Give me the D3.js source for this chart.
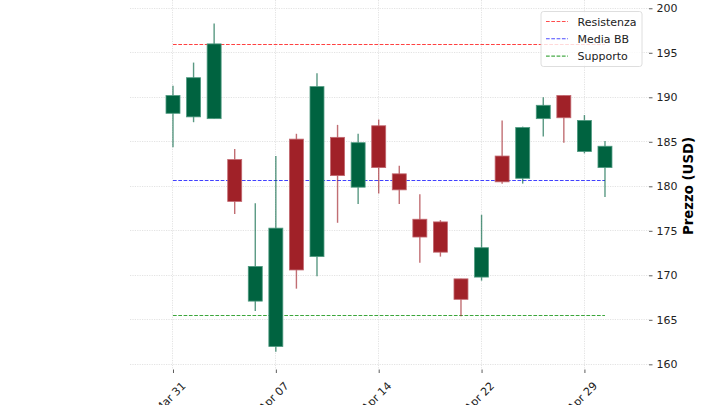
<!DOCTYPE html>
<html>
<head>
<meta charset="utf-8">
<script src="https://cdn.jsdelivr.net/npm/d3@7"></script>
<style>
  html, body { margin: 0; padding: 0; background: #fff; }
  svg { display: block; font-family: "DejaVu Sans", sans-serif; }
</style>
</head>
<body>
<svg id="chart" width="720" height="405"></svg>
<script>
// ---- data ----
const dates = ["2025-03-31","2025-04-01","2025-04-02","2025-04-03","2025-04-04",
  "2025-04-07","2025-04-08","2025-04-09","2025-04-10","2025-04-11",
  "2025-04-14","2025-04-15","2025-04-16","2025-04-17",
  "2025-04-21","2025-04-22","2025-04-23","2025-04-24","2025-04-25",
  "2025-04-28","2025-04-29","2025-04-30"];
const opens  = [188.2,187.8,187.6,183.0,167.1,162.0,185.3,172.1,185.5,179.9,186.8,181.4,176.3,176.0,169.6,169.8,183.4,180.9,187.6,190.2,183.9,182.1];
const highs  = [191.3,193.9,198.3,184.2,178.1,183.4,185.9,192.7,186.9,185.9,187.5,182.3,179.1,176.2,169.6,176.8,187.4,186.7,190.0,190.2,188.0,185.1];
const lows   = [184.4,187.2,187.6,176.9,166.0,161.4,168.5,169.9,175.9,178.0,179.2,178.0,171.4,172.1,165.4,169.4,180.3,180.3,185.6,184.9,183.7,178.8];
const closes = [190.2,192.2,196.0,178.3,171.0,175.3,170.6,191.2,181.2,184.9,182.1,179.6,174.3,172.6,167.3,173.1,180.5,186.6,189.1,187.7,187.4,184.5];
const tickLabels = ["Mar 31","Apr 07","Apr 14","Apr 22","Apr 29"];
const tickDates  = ["2025-03-31","2025-04-07","2025-04-14","2025-04-22","2025-04-29"];
const yTicks = [160,165,170,175,180,185,190,195,200];
const levelNames  = ["Resistenza","Media BB","Supporto"];
const levelValues = [195.9,180.67,165.5];
const levelColors = ["#ff2020","#2020ff","#1a961a"];

// ---- layout ----
const svg = d3.select("#chart");
const L = 130, R = 649, T = 0, B = 368.5;
const x = d3.scaleLinear().domain([-2.09, 23.14]).range([L, R]);
const y = d3.scaleLinear().domain([159.53, 200.93]).range([B, T]);
const snap = v => Math.round(v - 0.5) + 0.5;
const step = x(1) - x(0);
const bodyW = step * 0.68;
const up = "#006340", down = "#A02128";

// grid
const g = svg.append("g");
g.selectAll("line.hg").data(yTicks).join("line")
  .attr("x1", L).attr("x2", R)
  .attr("y1", d => snap(y(d))).attr("y2", d => snap(y(d)))
  .attr("stroke", "#dcdcdc").attr("stroke-width", 0.8).attr("stroke-dasharray", "1.2,1.2");
const tickIdx = tickDates.map(d => dates.indexOf(d));
g.selectAll("line.vg").data(tickIdx).join("line")
  .attr("x1", d => snap(x(d))).attr("x2", d => snap(x(d)))
  .attr("y1", T).attr("y2", B)
  .attr("stroke", "#dcdcdc").attr("stroke-width", 0.8).attr("stroke-dasharray", "1.2,1.2");

// right y axis
const yAxis = d3.axisRight(y).tickValues(yTicks).tickSize(3.5).tickPadding(4);
const ya = svg.append("g").attr("transform", `translate(${R},0)`).call(yAxis);
ya.select(".domain").remove();
ya.selectAll("line").attr("stroke", "#333").attr("stroke-width", 0.8);
ya.selectAll("text").attr("font-size", 11).attr("fill", "#222").attr("font-family", "DejaVu Sans");

// x axis ticks
const xAxis = d3.axisBottom(x).tickValues(tickIdx).tickSize(3.5).tickFormat((d, i) => tickLabels[i]);
const xa = svg.append("g").attr("transform", `translate(0,${B + 1})`).call(xAxis);
xa.select(".domain").remove();
xa.selectAll("line").attr("stroke", "#333").attr("stroke-width", 0.8);
xa.selectAll("text")
  .attr("font-size", 11).attr("fill", "#222").attr("font-family", "DejaVu Sans")
  .attr("text-anchor", "end").attr("dy", null).attr("y", 0)
  .attr("transform", "translate(13,17) rotate(-45)");

// level lines (under candles)
const xs = x(0), xe = x(dates.length - 1);
svg.append("g").selectAll("line").data(levelValues).join("line")
  .attr("x1", xs).attr("x2", xe)
  .attr("y1", d => snap(y(d))).attr("y2", d => snap(y(d)))
  .attr("stroke", (d, i) => levelColors[i]).attr("stroke-opacity", 0.85)
  .attr("stroke-width", 1.1).attr("stroke-dasharray", "3.7,1.6");

// candles
const idx = d3.range(dates.length);
const cg = svg.append("g");
cg.selectAll("line.wick").data(idx).join("line")
  .attr("x1", i => x(i)).attr("x2", i => x(i))
  .attr("y1", i => y(highs[i])).attr("y2", i => y(lows[i]))
  .attr("stroke", i => closes[i] >= opens[i] ? up : down)
  .attr("stroke-opacity", 0.65).attr("stroke-width", 1.4);
cg.selectAll("rect.body").data(idx).join("rect")
  .attr("x", i => x(i) - bodyW / 2).attr("width", bodyW)
  .attr("y", i => y(Math.max(opens[i], closes[i])))
  .attr("height", i => Math.max(1, y(Math.min(opens[i], closes[i])) - y(Math.max(opens[i], closes[i]))))
  .attr("fill", i => closes[i] >= opens[i] ? up : down)
  .attr("stroke", i => closes[i] >= opens[i] ? "#4f9a80" : "#c26870")
  .attr("stroke-width", 0.8);

// y label
svg.append("text")
  .attr("transform", "translate(693,186) rotate(-90)")
  .attr("text-anchor", "middle")
  .attr("font-size", 13.3).attr("font-weight", "bold").attr("fill", "#000")
  .text("Prezzo (USD)");

// legend
const lg = svg.append("g");
lg.append("rect").attr("x", 541).attr("y", 11.5).attr("width", 101).attr("height", 55)
  .attr("rx", 2.5).attr("fill", "#fff").attr("fill-opacity", 0.8)
  .attr("stroke", "#d6d6d6").attr("stroke-width", 0.8);
const rows = lg.selectAll("g.row").data(levelNames).join("g")
  .attr("transform", (d, i) => `translate(0,${21.5 + i * 17.3})`);
rows.append("line").attr("x1", 546).attr("x2", 568).attr("y1", 0).attr("y2", 0)
  .attr("stroke", (d, i) => levelColors[i]).attr("stroke-opacity", 0.8)
  .attr("stroke-width", 1.1).attr("stroke-dasharray", "3.7,1.6");
rows.append("text").attr("x", 577.5).attr("y", 4)
  .attr("font-size", 11).attr("fill", "#222").text(d => d);
</script>
</body>
</html>
